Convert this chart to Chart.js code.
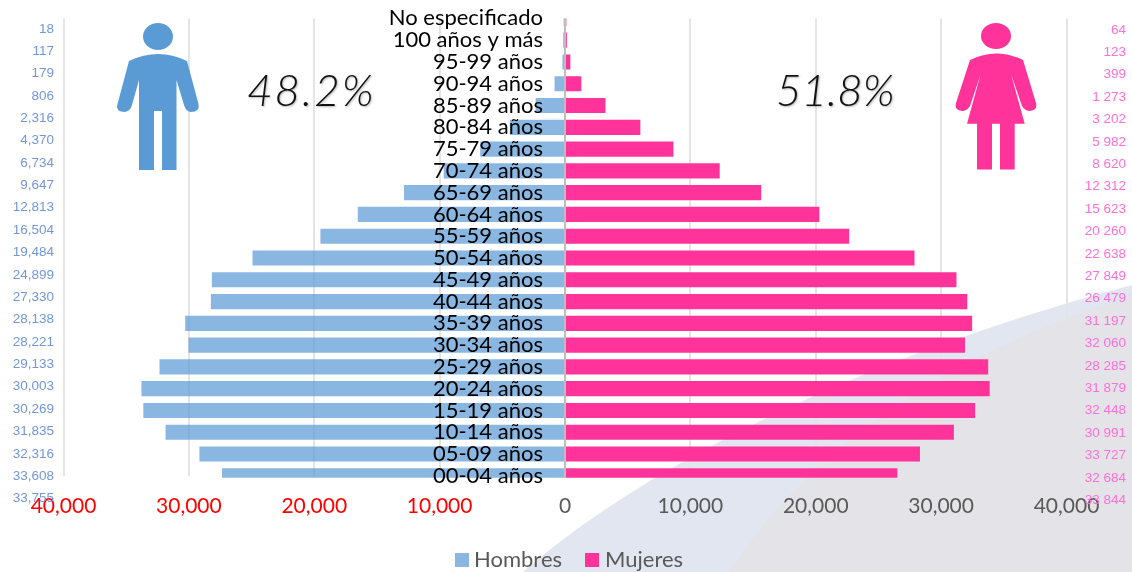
<!DOCTYPE html>
<html>
<head>
<meta charset="utf-8">
<title>Pirámide de población</title>
<script src="https://cdn.jsdelivr.net/npm/chart.js@4"></script>
<style>
    html, body { margin:0; padding:0; background:#fff; }
    #wrap { position:relative; width:1132px; height:572px; overflow:hidden; }
    #bg, #icons, #pop { position:absolute; left:0; top:0; }
    .pct { position:absolute; top:63px; font:italic 300 44px Lato, sans-serif; color:#111; text-shadow:1px 1px 2px rgba(0,0,0,.3); white-space:nowrap; }
    #legend { position:absolute; left:0; top:0; font:22px Lato, sans-serif; color:#595959; }
    #legend span { position:absolute; top:545px; white-space:nowrap; line-height:27px; }
    #legend i { position:absolute; top:553px; width:14px; height:14px; }
</style>
</head>
<body>
<div id="wrap">
    <svg id="bg" width="1132" height="572">
        <path d="M523,572 C640,470 850,360 1132,285 L1132,572 Z" fill="#e1e6f1"/>
        <path d="M729,572 C790,480 900,370 1132,295 L1132,572 Z" fill="#e3e3e8"/>
    </svg>
    <canvas id="pop" width="1132" height="572"></canvas>
    <svg id="icons" width="1132" height="572">
        <g fill="#5b9bd5">
            <ellipse cx="158" cy="36.5" rx="15" ry="13.5"/>
            <path d="M129,61 Q158,47 187,61 L198.5,104 Q200,112 191,112 Q186,112 184,105 L176.5,80 L176.5,170 L162,170 L162,111 L154,111 L154,170 L139,170 L139,80 L132,105 Q130,112 124,112 Q115,111 117.5,104 Z"/>
        </g>
        <g fill="#ff3399">
            <ellipse cx="996" cy="36" rx="15" ry="13"/>
            <path d="M970,60 Q996,47 1023,60 L1036,103 Q1038,110 1030,111 Q1025,111 1022,106 L1011,74 L1024.7,123.7 L1014.7,123.7 L1014.7,169.5 L1000,169.5 L1000,123.7 L992,123.7 L992,169.5 L977,169.5 L977,123.7 L967,123.7 L980.7,74 L970,106 Q967,111 962,111 Q954,110 956,103 Z"/>
        </g>
    </svg>
    <div class="pct" style="left:247px; letter-spacing:2px">48.2%</div>
    <div class="pct" style="left:776px">51.8%</div>
    <div id="legend"></div>
</div>
<script>
const ageGroups = ['No especificado','100 años y más','95-99 años','90-94 años','85-89 años','80-84 años','75-79 años','70-74 años','65-69 años','60-64 años','55-59 años','50-54 años','45-49 años','40-44 años','35-39 años','30-34 años','25-29 años','20-24 años','15-19 años','10-14 años','05-09 años','00-04 años'];
const hombres = [18,117,179,806,2316,4370,6734,9647,12813,16504,19484,24899,28138,28221,30269,30003,32316,33755,33608,31835,29133,27330];
const mujeres = [64,123,399,1273,3202,5982,8620,12312,15623,20260,22638,27849,31197,32060,32448,31879,33727,33844,32684,30991,28285,26479];
const hombresLabels = ['18','117','179','806','2,316','4,370','6,734','9,647','12,813','16,504','19,484','24,899','27,330','28,138','28,221','29,133','30,003','30,269','31,835','32,316','33,608','33,755'];
const mujeresLabels = ['64','123','399','1 273','3 202','5 982','8 620','12 312','15 623','20 260','22 638','27 849','26 479','31 197','32 060','28 285','31 879','32 448','30 991','33 727','32 684','33 844'];

// side columns and the zero line sit outside what the axes can draw
const extras = {
    id: 'extras',
    afterDatasetsDraw(chart) {
        const ctx = chart.ctx, x0 = chart.scales.x.getPixelForValue(0);
        ctx.save();
        ctx.fillStyle = '#bdbdbd';
        ctx.fillRect(x0 - 1, chart.chartArea.top, 2, chart.chartArea.bottom - chart.chartArea.top + 2);
        ctx.restore();
    },
    afterDraw(chart) {
        const ctx = chart.ctx;
        ctx.save();
        ctx.font = '13.5px "Liberation Sans"';
        ctx.textAlign = 'right';
        ctx.textBaseline = 'middle';
        ctx.fillStyle = '#7297d9';
        hombresLabels.forEach((t, i) => ctx.fillText(t, 54, 28.8 + i * 22.37));
        ctx.fillStyle = '#ff6fd8';
        mujeresLabels.forEach((t, i) => ctx.fillText(t, 1126, 29.8 + i * 22.41));
        ctx.restore();
    }
};

const chart = new Chart(document.getElementById('pop').getContext('2d'), {
    type: 'bar',
    plugins: [extras],
    data: {
        labels: ageGroups,
        datasets: [
            { label:'Hombres', data:hombres.map(v => -v), backgroundColor:'rgba(91,155,213,.72)', barThickness:14.5, clip:{left:0,top:0,right:0,bottom:2} },
            { label:'Mujeres', data:mujeres, backgroundColor:'#ff3399', barThickness:14.5, clip:{left:0,top:0,right:0,bottom:2} }
        ]
    },
    options: {
        indexAxis: 'y',
        responsive: false,
        animation: false,
        grouped: false,
        layout: { padding: { left:63.5, right:65.5, top:18.4, bottom:36.2 } },
        scales: {
            x: {
                type:'linear', min:-40000, max:40000,
                border:{display:false},
                grid: { color: c => c.tick.value === 0 ? 'transparent' : '#e4e4e4', lineWidth:2, drawTicks:false },
                afterFit: s => { s.height = 60; },
                ticks: {
                    stepSize:10000, autoSkip:false, maxRotation:0, padding:18,
                    callback: v => Math.abs(v).toLocaleString('en-US'),
                    font:{family:'Lato', size:21},
                    color: c => c.tick.value < 0 ? '#ff0000' : '#595959'
                }
            },
            y: {
                type:'category', position:{x:-1757}, offset:false,
                grid:{display:false}, border:{display:false},
                ticks: { z:1, autoSkip:false, color:'#000', font:{family:'Lato', size:22} }
            }
        },
        plugins: {
            tooltip: { enabled:false },
            legend: { display:false }
        }
    }
});

// legend built from the datasets, swatch then name
const legendX = [[455, 474], [585, 605]];
const legendEl = document.getElementById('legend');
chart.data.datasets.forEach((d, i) => {
    legendEl.insertAdjacentHTML('beforeend',
        `<i style="left:${legendX[i][0]}px; background:${d.backgroundColor}"></i><span style="left:${legendX[i][1]}px">${d.label}</span>`);
});
</script>
</body>
</html>
